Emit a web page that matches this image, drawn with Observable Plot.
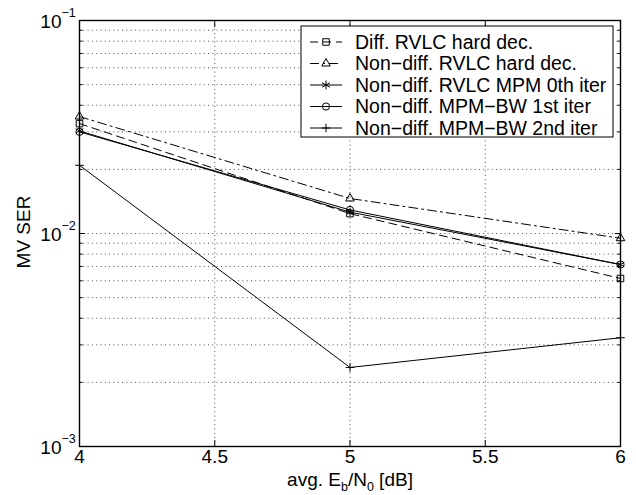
<!DOCTYPE html>
<html><head><meta charset="utf-8">
<script src="https://cdn.jsdelivr.net/npm/d3@7"></script>
<script src="https://cdn.jsdelivr.net/npm/@observablehq/plot@0.6"></script>
<style>body{margin:0;background:#fff;} #chart svg{display:block;}</style>
</head><body><div id="chart"></div>
<script>
// ---- data ----
const ebn0 = [4, 5, 6];
const seriesNames = [
  "Diff. RVLC hard dec.",
  "Non\u2212diff. RVLC hard dec.",
  "Non\u2212diff. RVLC MPM 0th iter",
  "Non\u2212diff. MPM\u2212BW 1st iter",
  "Non\u2212diff. MPM\u2212BW 2nd iter"
];
const diffHard    = [0.0328, 0.0124, 0.00615];
const nonDiffHard = [0.0354, 0.0146, 0.0095];
const mpm0        = [0.0303, 0.0126, 0.00715];
const mpmBw1      = [0.0300, 0.0129, 0.00715];
const mpmBw2      = [0.0209, 0.00235, 0.00324];
const xTicks = [4, 4.5, 5, 5.5, 6];
const xInnerTicks = [4.5, 5, 5.5];
const yDecades = [0.001, 0.01, 0.1];
const yExponents = ["\u22123", "\u22122", "\u22121"];
const yMinor = [0.002, 0.003, 0.004, 0.005, 0.006, 0.007, 0.008, 0.009,
                0.02, 0.03, 0.04, 0.05, 0.06, 0.07, 0.08, 0.09];
const yGrid = [0.002, 0.003, 0.004, 0.005, 0.006, 0.007, 0.008, 0.009, 0.01,
               0.02, 0.03, 0.04, 0.05, 0.06, 0.07, 0.08, 0.09];
const xLabelParts = ["avg. E", "b", "/N", "0", " [dB]"];
const yLabel = "MV SER";

// ---- styles ----
const valuesList = [diffHard, nonDiffHard, mpm0, mpmBw1, mpmBw2];
const styles = [
  {dash: "8,5", symbol: "square", r: 3.7},
  {dash: "9,4,2,4", symbol: "triangle", r: 3.2},
  {dash: null, symbol: "asterisk", r: 4.2},
  {dash: null, symbol: "circle", r: 3.6},
  {dash: null, symbol: "plus", r: 2.9}
];
const series = seriesNames.map((name, k) => ({
  name, ...styles[k],
  rows: ebn0.map((x, i) => ({x, y: valuesList[k][i]}))
}));

const FONT = "'Liberation Sans', Arial, Helvetica, sans-serif";
const FS = 19;

const marks = [
  Plot.gridY(yGrid, {stroke: "#000", strokeOpacity: 0.7, strokeWidth: 1, strokeDasharray: "1,3.3"}),
  Plot.gridX(xInnerTicks, {stroke: "#000", strokeOpacity: 0.7, strokeWidth: 1, strokeDasharray: "1,3.3"}),
  ...series.map(s => Plot.line(s.rows, {x: "x", y: "y", stroke: "#000", strokeWidth: 1, strokeDasharray: s.dash})),
  ...series.map(s => Plot.dot(s.rows, {x: "x", y: "y", symbol: s.symbol, r: s.r, stroke: "#000", fill: "none", strokeWidth: 1})),
  Plot.frame({stroke: "#000", strokeWidth: 1.4}),
  Plot.axisY(yMinor, {anchor: "left", tickSize: -3.5, tickFormat: () => "", label: null, strokeWidth: 1}),
  Plot.axisY(yMinor, {anchor: "right", tickSize: -3.5, tickFormat: () => "", label: null, strokeWidth: 1}),
  Plot.axisY([0.01], {anchor: "left", tickSize: -6, tickFormat: () => "", label: null, strokeWidth: 1}),
  Plot.axisY([0.01], {anchor: "right", tickSize: -6, tickFormat: () => "", label: null, strokeWidth: 1}),
  Plot.axisX(xInnerTicks, {anchor: "bottom", tickSize: -6, tickFormat: () => "", label: null, strokeWidth: 1}),
  Plot.axisX(xInnerTicks, {anchor: "top", tickSize: -6, tickFormat: () => "", label: null, strokeWidth: 1}),
  Plot.text(yDecades, {frameAnchor: "left", y: d => d, text: () => "10", textAnchor: "end", dx: -18, dy: 1, fontSize: FS, fill: "#000"}),
  Plot.text(yDecades, {frameAnchor: "left", y: d => d, text: (d, i) => yExponents[i], textAnchor: "start", dx: -18, dy: -8, fontSize: 12.5, fill: "#000"}),
  Plot.text(xTicks, {x: d => d, frameAnchor: "bottom", text: d => String(d), dy: 16, fontSize: FS, fill: "#000"})
];

const chart = Plot.plot({
  width: 636, height: 495,
  marginLeft: 79, marginRight: 16, marginTop: 20, marginBottom: 49,
  style: {fontFamily: FONT, fontSize: FS + "px", background: "#fff", color: "#000", overflow: "visible"},
  x: {domain: [4, 6], axis: null},
  y: {type: "log", domain: [0.001, 0.1], axis: null},
  marks
});
document.getElementById("chart").appendChild(chart);

// ---- axis titles and legend (text & layout) ----
const svg = d3.select(chart);
const xl = svg.append("text").attr("x", 350).attr("y", 486).attr("text-anchor", "middle")
  .attr("font-family", FONT).attr("font-size", FS).attr("fill", "#000");
xl.append("tspan").text(xLabelParts[0]);
xl.append("tspan").attr("dy", 5).attr("font-size", 12.5).text(xLabelParts[1]);
xl.append("tspan").attr("dy", -5).text(xLabelParts[2]);
xl.append("tspan").attr("dy", 5).attr("font-size", 12.5).text(xLabelParts[3]);
xl.append("tspan").attr("dy", -5).text(xLabelParts[4]);

svg.append("text").attr("transform", "translate(30,232) rotate(-90)").attr("text-anchor", "middle")
  .attr("font-family", FONT).attr("font-size", FS).attr("fill", "#000").text(yLabel);

const lg = svg.append("g").attr("text-anchor", "start");
lg.append("rect").attr("x", 301).attr("y", 26).attr("width", 312).attr("height", 111)
  .attr("fill", "#fff").attr("stroke", "#000").attr("stroke-width", 1);
const symMap = {square: d3.symbolSquare, triangle: d3.symbolTriangle, asterisk: d3.symbolAsterisk, circle: d3.symbolCircle, plus: d3.symbolPlus};
series.forEach((s, i) => {
  const cy = 42 + i * 21.5;
  lg.append("line").attr("x1", 310).attr("x2", 342).attr("y1", cy).attr("y2", cy)
    .attr("stroke", "#000").attr("stroke-width", 1).attr("stroke-dasharray", s.dash);
  lg.append("path").attr("d", d3.symbol(symMap[s.symbol], s.r * s.r * Math.PI)())
    .attr("transform", `translate(326,${cy})`).attr("fill", "none").attr("stroke", "#000").attr("stroke-width", 1);
  lg.append("text").attr("x", 355).attr("y", cy + 6.5).attr("text-anchor", "start").attr("font-family", FONT).attr("font-size", 19.5)
    .attr("fill", "#000").text(s.name);
});
</script>
</body></html>
